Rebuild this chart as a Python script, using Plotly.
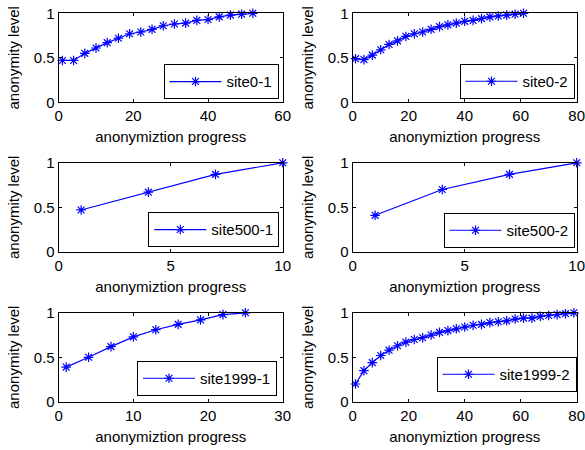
import plotly.graph_objects as go

# ---- data ----
names = ["site0-1", "site0-2", "site500-1", "site500-2", "site1999-1", "site1999-2"]

x_site0_1 = [1, 4, 7, 10, 13, 16, 19, 22, 25, 28, 31, 34, 37, 40, 43, 46, 49, 52]
y_site0_1 = [0.47, 0.47, 0.55, 0.61, 0.67, 0.72, 0.77, 0.79, 0.82, 0.86, 0.88, 0.89,
             0.92, 0.93, 0.96, 0.98, 0.99, 1.0]

x_site0_2 = [1, 4, 7, 10, 13, 16, 19, 22, 25, 28, 31, 34, 37, 40, 43, 46, 49, 52, 55, 58, 61]
y_site0_2 = [0.49, 0.48, 0.53, 0.59, 0.65, 0.69, 0.74, 0.77, 0.79, 0.82, 0.85, 0.87,
             0.89, 0.91, 0.92, 0.94, 0.96, 0.97, 0.98, 0.99, 1.0]

x_site500_1 = [1, 4, 7, 10]
y_site500_1 = [0.47, 0.67, 0.87, 1.0]

x_site500_2 = [1, 4, 7, 10]
y_site500_2 = [0.41, 0.70, 0.87, 1.0]

x_site1999_1 = [1, 4, 7, 10, 13, 16, 19, 22, 25]
y_site1999_1 = [0.39, 0.50, 0.62, 0.73, 0.81, 0.87, 0.92, 0.98, 1.0]

x_site1999_2 = [1, 4, 7, 10, 13, 16, 19, 22, 25, 28, 31, 34, 37, 40, 43, 46, 49, 52,
                55, 58, 61, 64, 67, 70, 73, 76, 79]
y_site1999_2 = [0.20, 0.35, 0.44, 0.52, 0.58, 0.63, 0.67, 0.70, 0.72, 0.75, 0.78, 0.80,
                0.82, 0.84, 0.86, 0.87, 0.89, 0.90, 0.91, 0.93, 0.94, 0.94, 0.96, 0.97,
                0.98, 0.99, 1.0]

xs = [x_site0_1, x_site0_2, x_site500_1, x_site500_2, x_site1999_1, x_site1999_2]
ys = [y_site0_1, y_site0_2, y_site500_1, y_site500_2, y_site1999_1, y_site1999_2]

x_ranges = [[0, 60], [0, 80], [0, 10], [0, 10], [0, 30], [0, 80]]
x_ticks = [[0, 20, 40, 60], [0, 20, 40, 60, 80], [0, 5, 10], [0, 5, 10],
           [0, 10, 20, 30], [0, 20, 40, 60, 80]]
y_ticks = [0, 0.5, 1]
y_ticklabels = ["0", "0.5", "1"]

x_title = "anonymiztion progress"
y_title = "anonymity level"

# ---- layout geometry ----
W, H = 585, 450
col_px = [(58.7, 282.7), (352.7, 576.7)]
row_px = [(13.3, 102.3), (162.8, 251.8), (312.8, 401.8)]
legend_px = [(278.5, 99.3), (574.5, 99.0), (279.3, 247.3), (574.5, 248.0),
             (277.0, 396.0), (576.5, 392.0)]

FONT = "Liberation Sans, Arial, Helvetica, sans-serif"
BLUE = "#0000FF"

fig = go.Figure()
layout = dict(
    width=W, height=H,
    margin=dict(l=0, r=0, t=0, b=0, pad=0),
    paper_bgcolor="white", plot_bgcolor="white",
    font=dict(family=FONT, size=15, color="black"),
    showlegend=True,
)

for i in range(6):
    r, c = divmod(i, 2)
    k = "" if i == 0 else str(i + 1)
    fig.add_trace(go.Scatter(
        x=xs[i], y=ys[i], mode="lines+markers", name=names[i],
        line=dict(color=BLUE, width=1.2),
        marker=dict(symbol="asterisk-open", size=8, color=BLUE,
                    line=dict(color=BLUE, width=1.2)),
        xaxis="x" + k, yaxis="y" + k, legend="legend" + k,
        cliponaxis=False,
    ))
    x0, x1 = col_px[c]
    y0, y1 = row_px[r]
    common = dict(showline=True, linecolor="black", linewidth=1, mirror="ticks",
                  ticks="inside", ticklen=3, tickcolor="black", showgrid=False,
                  zeroline=False, automargin=False, ticklabeloverflow="allow",
                  tickfont=dict(size=15, family=FONT, color="black"))
    layout["xaxis" + k] = dict(
        domain=[x0 / W, x1 / W], anchor="y" + k, range=x_ranges[i],
        tickmode="array", tickvals=x_ticks[i],
        title=dict(text=x_title, font=dict(size=15), standoff=8), **common)
    layout["yaxis" + k] = dict(
        domain=[1 - y1 / H, 1 - y0 / H], anchor="x" + k, range=[0, 1],
        tickmode="array", tickvals=y_ticks, ticktext=y_ticklabels,
        title=dict(text=y_title, font=dict(size=15), standoff=10), **common)
    lx, ly = legend_px[i]
    layout["legend" + k] = dict(
        x=lx / W, y=1 - ly / H, xanchor="right", yanchor="bottom",
        xref="paper", yref="paper",
        bgcolor="white", bordercolor="black", borderwidth=1,
        font=dict(size=15, family=FONT, color="black"), itemwidth=52,
    )

fig.update_layout(**layout)
fig.write_html("out.html", config={"displayModeBar": False},
               post_script="document.body.style.margin='0';document.body.style.padding='0';")
